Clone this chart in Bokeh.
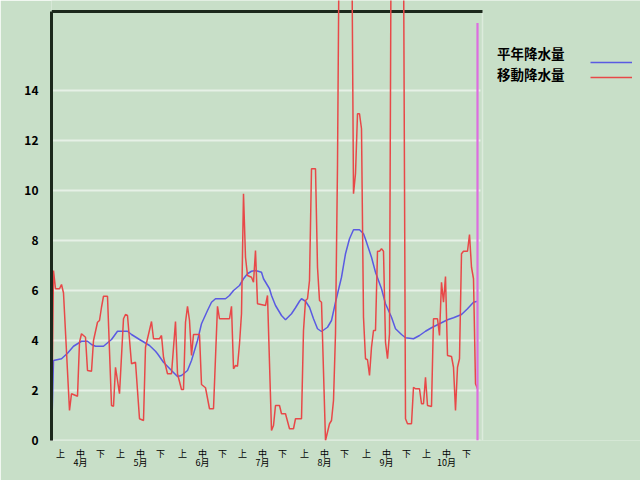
from bokeh.plotting import figure
from bokeh.models import Range1d, FixedTicker, LinearAxis, Legend, LegendItem
from bokeh.embed import file_html
from bokeh.resources import INLINE

# ---- data ----
month_names = ["4月", "5月", "6月", "7月", "8月", "9月", "10月"]
month_start_day = [0, 30, 61, 91, 122, 153, 183]
dekad_names = ["上", "中", "下"]
dekad_offset = [4.5, 14.5, 24.5]
y_ticks = [0, 2, 4, 6, 8, 10, 12, 14]

# 平年降水量 (days since Apr 1, mm)
normal_day = [0, 1, 5, 8, 11, 15, 18, 20, 22, 26, 30, 33, 38, 40, 44, 49, 52, 53, 56, 60,
              63, 65, 68, 70, 73, 75, 78, 80, 82, 87, 89, 91, 94, 96, 98, 100, 102, 105,
              106, 109, 110, 112, 115, 117, 120, 122, 124, 125, 127, 129, 131, 133, 135,
              138, 140, 142, 145, 147, 149, 151, 154, 156, 157, 160, 162, 165, 167, 170,
              172, 175, 177, 181, 184, 187, 190, 194, 198, 201, 205, 208, 211, 213]
normal_mm = [0.0, 3.2, 3.27, 3.49, 3.77, 3.97, 3.97, 3.84, 3.77, 3.77, 4.04, 4.37, 4.37,
             4.24, 4.04, 3.8, 3.57, 3.47, 3.13, 2.8, 2.56, 2.6, 2.8, 3.2, 4.0, 4.67, 5.2,
             5.53, 5.67, 5.67, 5.8, 6.0, 6.2, 6.47, 6.67, 6.77, 6.8, 6.73, 6.47, 6.07, 5.8,
             5.4, 5.0, 4.83, 5.07, 5.31, 5.57, 5.67, 5.57, 5.33, 4.87, 4.47, 4.36, 4.53,
             4.8, 5.53, 6.53, 7.47, 8.07, 8.43, 8.43, 8.27, 8.05, 7.33, 6.73, 6.07, 5.47,
             4.93, 4.47, 4.24, 4.11, 4.07, 4.2, 4.37, 4.51, 4.67, 4.83, 4.91, 5.04, 5.27,
             5.53, 5.57]

# 移動降水量 (days since Apr 1, mm)
moving_day = [0, 1, 2, 4, 5, 6, 9, 10, 13, 14, 15, 17, 18, 20, 21, 23, 24, 25, 26, 28,
              30, 31, 32, 34, 36, 37, 38, 40, 42, 44, 46, 47, 50, 51, 54, 55, 56, 58, 60,
              62, 63, 65, 66, 67, 68, 69, 70, 71, 74, 75, 77, 79, 81, 83, 84, 89, 90, 91,
              92, 93, 94, 95, 96, 97, 98, 100, 101, 102, 103, 107, 108, 110, 111, 112, 114,
              115, 117, 119, 121, 122, 125, 126, 127, 128, 129, 130, 132, 133, 134, 135,
              137, 139, 140, 141, 142, 143, 144, 145, 146, 147, 148, 149, 150, 151, 152,
              153, 154, 155, 156, 157, 158, 159, 160, 161, 162, 163, 164, 165, 166, 167,
              168, 169, 170, 171, 172, 173, 174, 175, 176, 177, 178, 180, 181, 182, 184,
              185, 186, 187, 188, 190, 191, 193, 194, 195, 196, 197, 198, 200, 201, 202,
              203, 204, 205, 206, 208, 209, 210, 211, 212, 213]
moving_mm = [0.0, 6.8, 6.07, 6.07, 6.24, 5.9, 1.2, 1.87, 1.77, 3.93, 4.27, 4.13, 2.8, 2.77,
             4.0, 4.73, 4.8, 5.33, 5.77, 5.77, 1.4, 1.37, 2.93, 1.87, 4.87, 5.04, 5.0, 3.07,
             3.13, 0.87, 0.8, 3.73, 4.76, 4.07, 4.07, 4.2, 3.33, 2.67, 2.67, 4.76, 2.67,
             2.04, 2.04, 4.73, 5.37, 4.8, 3.4, 4.24, 4.24, 2.24, 2.11, 1.27, 1.27, 5.37,
             4.87, 4.87, 5.37, 2.87, 3.0, 2.97, 3.87, 5.07, 9.87, 7.33, 6.6, 6.53, 6.33,
             7.6, 5.47, 5.4, 5.8, 0.4, 0.6, 1.4, 1.4, 1.07, 1.07, 0.47, 0.47, 0.87, 0.87,
             4.4, 5.6, 5.67, 6.4, 10.87, 10.87, 6.93, 5.6, 5.53, 0.0, 0.67, 0.8, 1.6, 4.27,
             11.0, 22.0, 26.0, 28.0, 27.0, 26.0, 24.0, 22.0, 9.87, 10.67, 13.07, 13.07,
             12.47, 4.93, 3.27, 3.23, 2.6, 3.73, 4.4, 4.4, 7.57, 7.57, 7.67, 7.57, 3.93,
             3.27, 4.27, 24.0, 27.0, 29.0, 28.0, 25.0, 22.0, 20.0, 0.87, 0.67, 0.67, 2.13,
             2.07, 2.07, 1.47, 1.47, 2.53, 1.4, 1.36, 4.87, 4.87, 4.2, 6.33, 5.53, 6.56, 3.4,
             3.36, 2.93, 1.2, 2.93, 3.27, 7.47, 7.57, 7.57, 8.24, 6.93, 6.47, 2.27, 2.07]

today_day = 213
today_top = 16.7

# ---- layout constants (not data) ----
PLOT_END = 215.5       # right edge of the chart area (days)
GRID_END = 214.5
TOP_VALUE = 17.16      # black top border
BG = "#c8dfc8"
FONT = "Noto Sans CJK JP"
DARK = "#1c281c"

p = figure(width=640, height=480, output_backend="svg", toolbar_location=None,
           x_range=Range1d(0, 294.5), y_range=Range1d(0, 17.6),
           min_border_left=51, min_border_right=0, min_border_top=0,
           min_border_bottom=40, background_fill_color=BG, border_fill_color=BG,
           title=None)
p.outline_line_color = None
p.xgrid.visible = False
p.ygrid.visible = False

# y axis
p.yaxis.ticker = FixedTicker(ticks=y_ticks)
p.yaxis.bounds = (0, TOP_VALUE)
p.yaxis.axis_line_color = DARK
p.yaxis.axis_line_width = 3
p.yaxis.major_tick_out = 0
p.yaxis.major_tick_in = 0
p.yaxis.minor_tick_out = 0
p.yaxis.minor_tick_in = 0
p.yaxis.major_label_standoff = 13
p.yaxis.major_label_text_font = FONT
p.yaxis.major_label_text_font_style = "bold"
p.yaxis.major_label_text_font_size = "12px"
p.yaxis.major_label_text_color = "black"

# x axes (旬 row and month row)
dekad_ticks = []
dekad_labels = {}
for ms in month_start_day:
    for off, nm in zip(dekad_offset, dekad_names):
        dekad_ticks.append(ms + off)
        dekad_labels[ms + off] = nm
month_ticks = [ms + dekad_offset[1] for ms in month_start_day]
month_labels = {t: n for t, n in zip(month_ticks, month_names)}

def style_x(ax, standoff):
    ax.axis_line_color = None
    ax.major_tick_out = 0
    ax.major_tick_in = 0
    ax.minor_tick_out = 0
    ax.minor_tick_in = 0
    ax.major_label_standoff = standoff
    ax.major_label_text_font = FONT
    ax.major_label_text_font_size = "9px"
    ax.major_label_text_color = "black"

xa = p.xaxis[0]
xa.ticker = FixedTicker(ticks=dekad_ticks)
xa.major_label_overrides = dekad_labels
style_x(xa, 6)

xm = LinearAxis(ticker=FixedTicker(ticks=month_ticks))
xm.major_label_overrides = month_labels
style_x(xm, -7)
p.add_layout(xm, "below")

# horizontal grid lines, right edge, top border
p.segment(x0=[0] * len(y_ticks), x1=[GRID_END] * len(y_ticks), y0=y_ticks, y1=y_ticks,
          line_color="#e6f0e6", line_width=2)
p.segment(x0=[PLOT_END], x1=[PLOT_END], y0=[0], y1=[TOP_VALUE],
          line_color="#dcebdc", line_width=1.5)
p.segment(x0=[0], x1=[PLOT_END], y0=[TOP_VALUE], y1=[TOP_VALUE],
          line_color=DARK, line_width=3)

blue = p.line(normal_day, normal_mm, line_color="#5a5ae2", line_width=1.5)
red = p.line(moving_day, moving_mm, line_color="#e84848", line_width=1.5)
p.segment(x0=[today_day], y0=[0], x1=[today_day], y1=[today_top],
          line_color="#dc6ee0", line_width=2.2)

dummy = p.line(x=[], y=[], line_alpha=0)

common = dict(orientation="vertical", glyph_height=14, label_height=14, spacing=1,
              padding=0, margin=0, background_fill_alpha=0, border_line_alpha=0,
              label_text_font=FONT, label_text_font_style="bold",
              label_text_font_size="13.5px", label_text_color="black")
leg_text = Legend(items=[LegendItem(label="平年降水量", renderers=[dummy]),
                         LegendItem(label="移動降水量", renderers=[dummy])],
                  location=(445, 356), glyph_width=1, label_standoff=0, **common)
leg_lines = Legend(items=[LegendItem(label=" ", renderers=[blue]),
                          LegendItem(label=" ", renderers=[red])],
                   location=(539, 356), glyph_width=42, label_standoff=0, **common)
p.add_layout(leg_text)
p.add_layout(leg_lines)

open("out.html", "w").write(file_html(p, INLINE))
